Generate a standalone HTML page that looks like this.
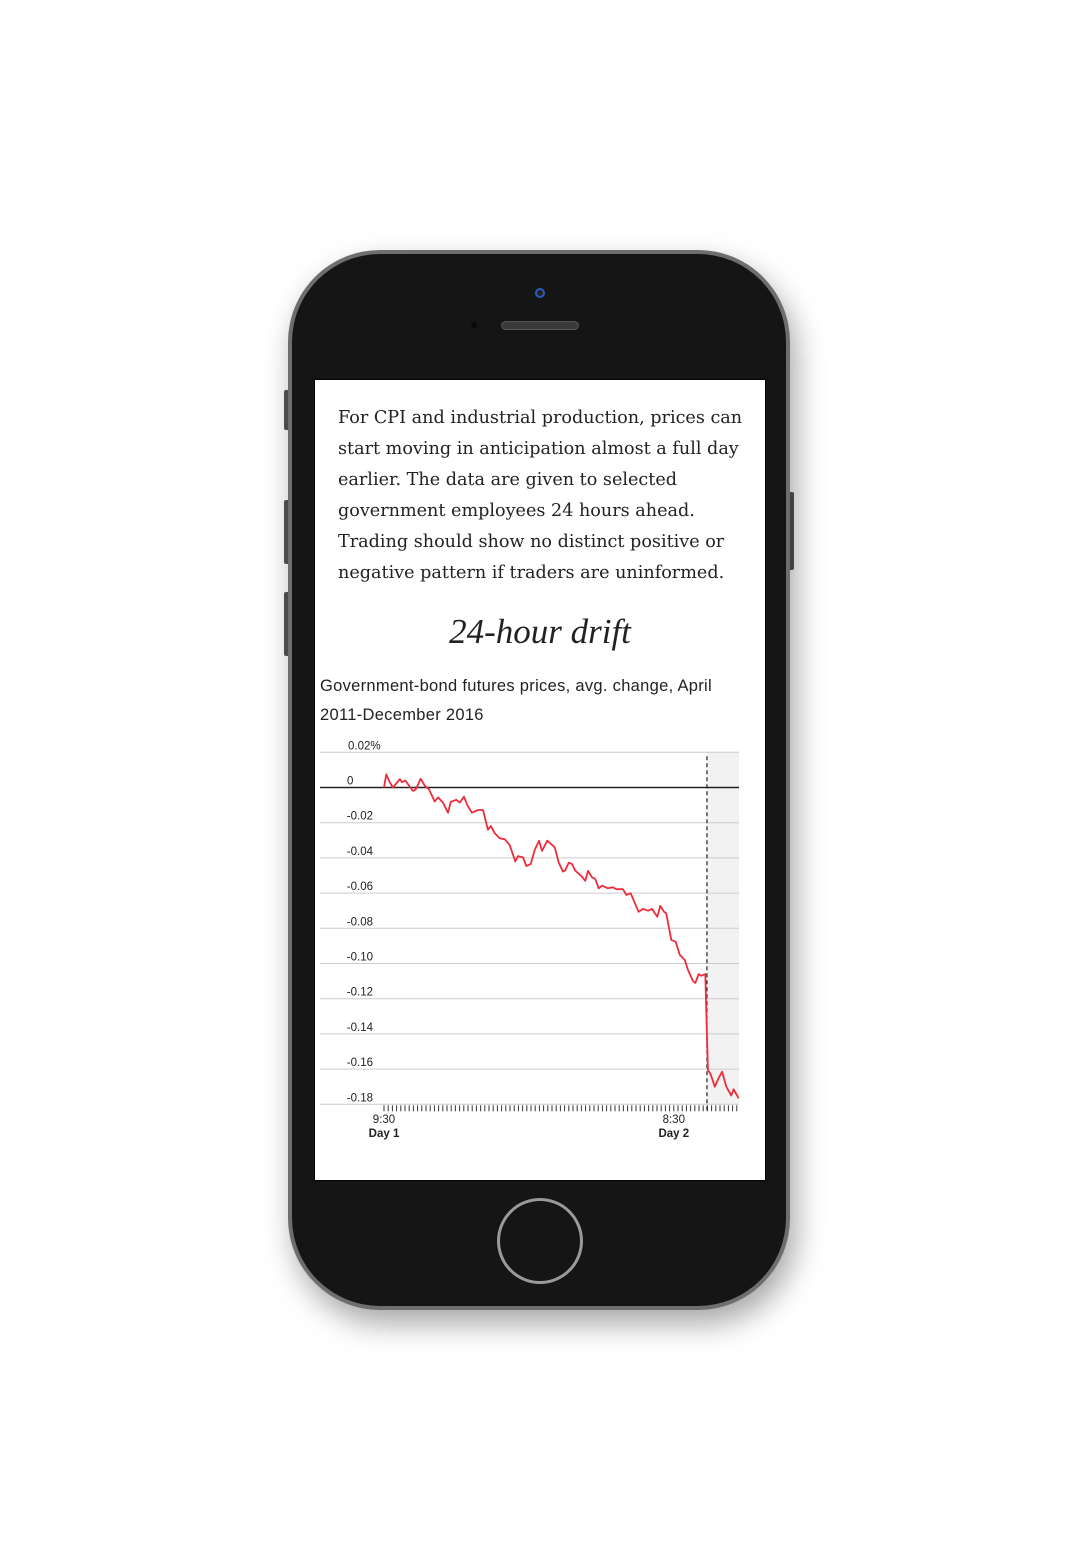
<!DOCTYPE html>
<html><head><meta charset="utf-8"><style>
html,body{margin:0;padding:0;background:#fff;width:1080px;height:1560px;overflow:hidden;position:relative}
.abs{position:absolute}
#phone{left:288px;top:250px;width:502px;height:1060px;border-radius:92px;background:#6e6e6e;box-shadow:6px 14px 30px rgba(0,0,0,0.35)}
#phone-inner{left:292px;top:254px;width:494px;height:1052px;border-radius:88px;background:#151515}
#screen{left:314px;top:379px;width:452px;height:802px;background:#fff;border:1px solid #000;box-sizing:border-box}
.para{left:338px;top:403px;width:430px;font-family:"DejaVu Serif","Liberation Serif",serif;font-size:17.6px;line-height:31px;color:#222;white-space:nowrap}
.title{left:315px;top:612px;width:450px;text-align:center;font-family:"Liberation Serif",serif;font-style:italic;font-size:35px;color:#222}
.sub{left:320px;top:672px;width:440px;font-family:"Liberation Sans",sans-serif;font-size:16.5px;letter-spacing:0.3px;line-height:29px;color:#222;white-space:nowrap}
</style></head><body>
<div class="abs" style="left:284px;top:390px;width:6px;height:40px;background:#555;border-radius:2px"></div>
<div class="abs" style="left:284px;top:500px;width:6px;height:64px;background:#555;border-radius:2px"></div>
<div class="abs" style="left:284px;top:592px;width:6px;height:64px;background:#555;border-radius:2px"></div>
<div class="abs" style="left:788px;top:492px;width:6px;height:78px;background:#555;border-radius:2px"></div>
<div id="phone" class="abs"></div>
<div id="phone-inner" class="abs"></div>
<div class="abs" style="left:535px;top:288px;width:10px;height:10px;border-radius:50%;background:#222;box-shadow:inset 0 0 0 2px #2a5bbf"></div>
<div class="abs" style="left:471px;top:322px;width:6px;height:6px;border-radius:50%;background:#0a0a0a"></div>
<div class="abs" style="left:501px;top:321px;width:78px;height:9px;border-radius:5px;background:#3a3a3a;border:1px solid #555;box-sizing:border-box"></div>
<div class="abs" style="left:497px;top:1198px;width:86px;height:86px;border-radius:50%;border:3px solid #9a9a9a;box-sizing:border-box;background:#151515"></div>
<div id="screen" class="abs"></div>
<div class="abs para">For CPI and industrial production, prices can<br>start moving in anticipation almost a full day<br>earlier. The data are given to selected<br>government employees 24 hours ahead.<br>Trading should show no distinct positive or<br>negative pattern if traders are uninformed.</div>
<div class="abs title">24-hour drift</div>
<div class="abs sub">Government-bond futures prices, avg. change, April<br>2011-December 2016</div>
<svg class="abs" id="chart" style="left:0;top:0" width="1080" height="1560"></svg>
<script>
const hours=[0,0.18,0.45,0.71,1.25,1.43,1.69,2.30,2.52,2.91,3.23,3.57,4.02,4.29,4.68,5.08,5.29,5.74,6.01,6.35,6.61,6.98,7.46,7.86,8.25,8.47,8.79,9.18,9.58,9.98,10.42,10.63,11.03,11.29,11.64,11.96,12.30,12.54,12.96,13.55,13.87,14.21,14.39,14.66,14.92,15.18,15.66,15.98,16.19,16.51,16.77,17.04,17.30,17.78,18.17,18.44,18.97,19.23,19.58,20.21,20.56,20.95,21.27,21.69,21.93,22.22,22.40,22.80,23.15,23.47,23.87,24.13,24.52,24.71,24.98,25.18,25.50,25.71,25.93,26.25,26.56,26.83,27.17,27.56,27.75,28.15];
const changes=[0,0.0075,0.003,0,0.0047,0.003,0.004,-0.002,-0.001,0.005,0.001,-0.001,-0.008,-0.0056,-0.0086,-0.0143,-0.0082,-0.007,-0.0086,-0.0052,-0.010,-0.0143,-0.0128,-0.0128,-0.024,-0.0219,-0.026,-0.0289,-0.0294,-0.0327,-0.042,-0.039,-0.0397,-0.0446,-0.0435,-0.0355,-0.0302,-0.036,-0.0302,-0.034,-0.0427,-0.0478,-0.047,-0.0427,-0.0435,-0.0473,-0.0503,-0.053,-0.0474,-0.051,-0.052,-0.0573,-0.0558,-0.0573,-0.0567,-0.0578,-0.0578,-0.061,-0.0601,-0.0706,-0.069,-0.070,-0.069,-0.0734,-0.0673,-0.0706,-0.0715,-0.0866,-0.0876,-0.095,-0.098,-0.1037,-0.110,-0.111,-0.106,-0.107,-0.106,-0.1605,-0.163,-0.170,-0.165,-0.1615,-0.170,-0.175,-0.1715,-0.1766];
const yTicks=[0.02,0,-0.02,-0.04,-0.06,-0.08,-0.10,-0.12,-0.14,-0.16,-0.18];
const yTickLabels=["0.02%","0","-0.02","-0.04","-0.06","-0.08","-0.10","-0.12","-0.14","-0.16","-0.18"];
const xLabels=[{h:0,t:"9:30",d:"Day 1"},{h:23,t:"8:30",d:"Day 2"}];
const releaseHour=25.63, xMax=28.17;
const svg=document.getElementById('chart'), NS='http://www.w3.org/2000/svg';
const X=h=>384+h*12.6, Y=v=>787.5-v*1760;
function mk(tag,attrs){const e=document.createElementNS(NS,tag);for(const k in attrs)e.setAttribute(k,attrs[k]);svg.appendChild(e);return e;}
const sh=mk('rect',{x:X(releaseHour),y:Y(0.02),width:X(xMax)-X(releaseHour),height:Y(-0.18)-Y(0.02),fill:'#f2f2f2'});


yTicks.forEach((v,i)=>{
  const l=mk('line',{x1:320,x2:739,y1:Y(v),y2:Y(v),stroke:v===0?'#222':'#ccc','stroke-width':v===0?1.4:1});
  
  
  const t=mk('text',{x:v===0.02?348:(v===0?347:373),y:Y(v)-3,'font-family':'Liberation Sans, sans-serif','font-size':11.5,fill:'#222','text-anchor':v>=0?'start':'end'});
  t.textContent=yTickLabels[i];
  
  
});
for(let h=0;h<=xMax+0.01;h+=1/3){
  const tk=mk('line',{x1:X(h),x2:X(h),y1:Y(-0.18)+1,y2:Y(-0.18)+7,stroke:'#333','stroke-width':1});
  
  
}
xLabels.forEach(o=>{
  const a=mk('text',{x:X(o.h),y:1123,'font-family':'Liberation Sans, sans-serif','font-size':11.5,fill:'#222','text-anchor':'middle'});
  a.textContent=o.t;
  
  
  const b=mk('text',{x:X(o.h),y:1137,'font-family':'Liberation Sans, sans-serif','font-size':11.5,'font-weight':'bold',fill:'#222','text-anchor':'middle'});
  b.textContent=o.d;
  
  
});
const dl=mk('line',{x1:X(releaseHour),x2:X(releaseHour),y1:Y(0.02)+4,y2:Y(-0.18)+7,stroke:'#222','stroke-width':1.2,'stroke-dasharray':'4,3'});


const p=mk('path',{d:hours.map((h,i)=>(i?'L':'M')+X(h).toFixed(1)+','+Y(changes[i]).toFixed(1)).join(''),fill:'none',stroke:'#ee2c3c','stroke-width':1.8,'stroke-linejoin':'round'});


</script>
</body></html>
